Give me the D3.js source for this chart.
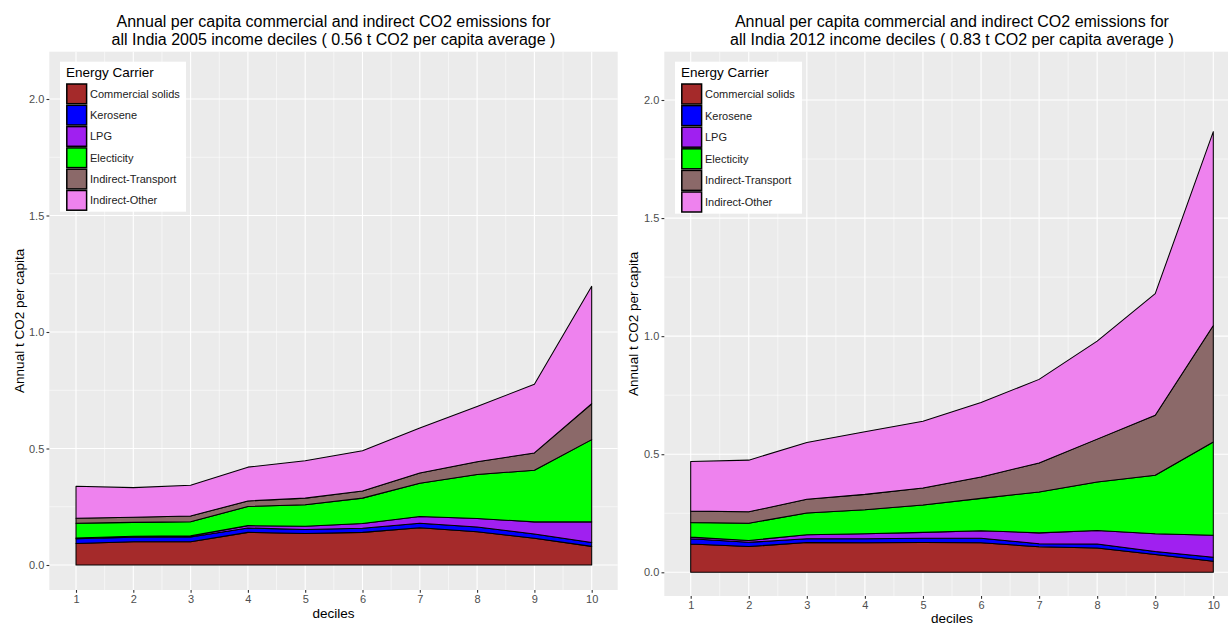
<!DOCTYPE html>
<html>
<head>
<meta charset="utf-8">
<script src="https://cdn.jsdelivr.net/npm/d3@7"></script>
<style>
  html, body { margin: 0; padding: 0; background: #ffffff; }
  svg { display: block; font-family: "Liberation Sans", Arial, sans-serif; }
</style>
</head>
<body>
<svg id="chart" width="1228" height="626"></svg>
<script>
// Income deciles on the x axis
const deciles = [1, 2, 3, 4, 5, 6, 7, 8, 9, 10];

// Energy carriers, stacked bottom to top
const carriers = ["Commercial solids", "Kerosene", "LPG", "Electicity", "Indirect-Transport", "Indirect-Other"];
const carrierColors = ["#A52A2A", "#0000FF", "#A020F0", "#00FF00", "#8B6969", "#EE82EE"];

// 2005 per capita emissions (t CO2) by decile
const solids2005    = [0.092, 0.100, 0.100, 0.140, 0.135, 0.140, 0.160, 0.143, 0.115, 0.080];
const kerosene2005  = [0.021, 0.019, 0.020, 0.019, 0.017, 0.018, 0.019, 0.020, 0.018, 0.017];
const lpg2005       = [0.003, 0.004, 0.005, 0.010, 0.014, 0.020, 0.029, 0.037, 0.052, 0.088];
const elec2005      = [0.063, 0.060, 0.061, 0.082, 0.093, 0.109, 0.143, 0.188, 0.222, 0.353];
const transport2005 = [0.022, 0.022, 0.024, 0.024, 0.028, 0.031, 0.044, 0.055, 0.074, 0.154];
const other2005     = [0.137, 0.127, 0.132, 0.145, 0.160, 0.172, 0.193, 0.237, 0.295, 0.504];

// 2012 per capita emissions (t CO2) by decile
const solids2012    = [0.120, 0.109, 0.126, 0.125, 0.126, 0.125, 0.108, 0.103, 0.075, 0.047];
const kerosene2012  = [0.022, 0.018, 0.016, 0.017, 0.018, 0.019, 0.013, 0.017, 0.013, 0.017];
const lpg2012       = [0.007, 0.008, 0.017, 0.021, 0.025, 0.032, 0.046, 0.057, 0.075, 0.093];
const elec2012      = [0.062, 0.073, 0.092, 0.102, 0.116, 0.137, 0.173, 0.205, 0.248, 0.395];
const transport2012 = [0.048, 0.048, 0.058, 0.065, 0.072, 0.091, 0.123, 0.182, 0.254, 0.493];
const other2012     = [0.210, 0.219, 0.241, 0.265, 0.283, 0.315, 0.354, 0.415, 0.515, 0.821];

// Axis ticks
const yTicks = [0, 0.5, 1.0, 1.5, 2.0];
const yMinorTicks = [0.25, 0.75, 1.25, 1.75];
const xMinorTicks = [1.5, 2.5, 3.5, 4.5, 5.5, 6.5, 7.5, 8.5, 9.5];

const titles2005 = ["Annual per capita commercial and indirect CO2 emissions for",
                    "all India 2005 income deciles ( 0.56 t CO2 per capita average )"];
const titles2012 = ["Annual per capita commercial and indirect CO2 emissions for",
                    "all India 2012 income deciles ( 0.83 t CO2 per capita average )"];
const yLabel = "Annual t CO2 per capita";
const xLabel = "deciles";
const legendTitle = "Energy Carrier";

function buildTable(series) {
  return deciles.map((d, i) => {
    const row = { decile: d };
    carriers.forEach((c, j) => { row[c] = series[j][i]; });
    return row;
  });
}

const svg = d3.select("#chart");

function drawPanel(cfg) {
  const g = svg.append("g");
  const x = d3.scaleLinear().domain([1, 10]).range([cfg.x1, cfg.x10]);
  const y = d3.scaleLinear().domain([0, 2]).range([cfg.y0, cfg.y2]);
  const p = cfg.panel;

  // panel background
  g.append("rect")
    .attr("x", p.left).attr("y", p.top)
    .attr("width", p.right - p.left).attr("height", p.bottom - p.top)
    .attr("fill", "#EBEBEB");

  // minor grid
  g.selectAll(".ymin").data(yMinorTicks).join("line")
    .attr("x1", p.left).attr("x2", p.right)
    .attr("y1", d => y(d)).attr("y2", d => y(d))
    .attr("stroke", "#ffffff").attr("stroke-width", 0.55);
  g.selectAll(".xmin").data(xMinorTicks).join("line")
    .attr("y1", p.top).attr("y2", p.bottom)
    .attr("x1", d => x(d)).attr("x2", d => x(d))
    .attr("stroke", "#ffffff").attr("stroke-width", 0.55);
  // major grid
  g.selectAll(".ymaj").data(yTicks).join("line")
    .attr("x1", p.left).attr("x2", p.right)
    .attr("y1", d => y(d)).attr("y2", d => y(d))
    .attr("stroke", "#ffffff").attr("stroke-width", 1.1);
  g.selectAll(".xmaj").data(deciles).join("line")
    .attr("y1", p.top).attr("y2", p.bottom)
    .attr("x1", d => x(d)).attr("x2", d => x(d))
    .attr("stroke", "#ffffff").attr("stroke-width", 1.1);

  // stacked areas
  const table = buildTable(cfg.series);
  const stacked = d3.stack().keys(carriers)(table);
  const area = d3.area()
    .x(d => x(d.data.decile))
    .y0(d => y(d[0]))
    .y1(d => y(d[1]));
  g.selectAll(".layer").data(stacked).join("path")
    .attr("d", area)
    .attr("fill", (d, i) => carrierColors[i])
    .attr("stroke", "#000000")
    .attr("stroke-width", 1.05)
    .attr("stroke-linejoin", "round");

  // y axis
  const yAxis = d3.axisLeft(y).tickValues(yTicks).tickFormat(d3.format(".1f"))
    .tickSize(2.8).tickPadding(2.2);
  const ya = g.append("g").attr("transform", `translate(${p.left},0)`).call(yAxis);
  ya.select(".domain").remove();
  ya.selectAll(".tick line").attr("stroke", "#333333").attr("stroke-width", 1.1);
  ya.selectAll(".tick text").attr("fill", "#4D4D4D").attr("font-size", 11)
    .attr("font-family", "Liberation Sans, Arial, sans-serif");

  // x axis
  const xAxis = d3.axisBottom(x).tickValues(deciles).tickFormat(d3.format("d"))
    .tickSize(2.8).tickPadding(2.2);
  const xa = g.append("g").attr("transform", `translate(0,${p.bottom})`).call(xAxis);
  xa.select(".domain").remove();
  xa.selectAll(".tick line").attr("stroke", "#333333").attr("stroke-width", 1.1);
  xa.selectAll(".tick text").attr("fill", "#4D4D4D").attr("font-size", 11)
    .attr("font-family", "Liberation Sans, Arial, sans-serif");

  const cx = (p.left + p.right) / 2;
  const cy = (p.top + p.bottom) / 2;

  // axis titles
  g.append("text").attr("x", cx).attr("y", cfg.xTitleY)
    .attr("text-anchor", "middle").attr("font-size", 13.5).attr("fill", "#000")
    .text(xLabel);
  g.append("text")
    .attr("transform", `translate(${cfg.yTitleX},${cy}) rotate(-90)`)
    .attr("text-anchor", "middle").attr("font-size", 13.5).attr("fill", "#000")
    .text(yLabel);

  // plot title
  cfg.titles.forEach((t, i) => {
    g.append("text").attr("x", cx).attr("y", 27 + i * 17.5)
      .attr("text-anchor", "middle").attr("font-size", 16).attr("fill", "#000")
      .text(t);
  });

  // legend
  const L = cfg.legend;
  const lg = g.append("g").attr("transform", `translate(${L.x},${L.y})`);
  lg.append("rect").attr("width", L.w).attr("height", L.h).attr("fill", "#ffffff");
  lg.append("text").attr("x", 6).attr("y", 15.5)
    .attr("font-size", 13.5).attr("fill", "#000").text(legendTitle);
  carriers.forEach((c, i) => {
    const ky = 21.5 + i * L.step;
    lg.append("rect").attr("x", 6.8).attr("y", ky + 0.8)
      .attr("width", 19.8).attr("height", L.step - 1.6)
      .attr("fill", carrierColors[i]).attr("stroke", "#000").attr("stroke-width", 1.5);
    lg.append("text").attr("x", 30).attr("y", ky + L.step / 2 + 4)
      .attr("font-size", 11).attr("fill", "#222").text(c);
  });
}

drawPanel({
  series: [solids2005, kerosene2005, lpg2005, elec2005, transport2005, other2005],
  titles: titles2005,
  panel: { left: 49.3, right: 617.7, top: 51.7, bottom: 590 },
  x1: 76, x10: 591.7, y0: 565, y2: 99,
  xTitleY: 618, yTitleX: 24,
  legend: { x: 60, y: 61.7, w: 126, h: 150, step: 21.3 }
});

drawPanel({
  series: [solids2012, kerosene2012, lpg2012, elec2012, transport2012, other2012],
  titles: titles2012,
  panel: { left: 664.3, right: 1239.5, top: 51.7, bottom: 596 },
  x1: 690.7, x10: 1213.3, y0: 572.3, y2: 100,
  xTitleY: 622.5, yTitleX: 638,
  legend: { x: 675, y: 61.7, w: 127, h: 152, step: 21.6 }
});
</script>
</body>
</html>
